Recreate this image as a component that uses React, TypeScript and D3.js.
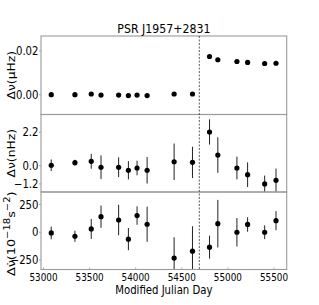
import React, { useEffect, useRef } from "react";
import * as d3 from "d3";

// epochs (MJD) shared by all three panels
const mjd = [53084, 53341, 53518, 53624, 53815, 53921, 54015, 54124, 54417, 54616, 54801, 54891, 55098, 55214, 55399, 55522];
const glitchEpoch = 54690;

// top: frequency residual (uHz)
const dNu = [0, 0, 0.0003, -0.0002, -0.0002, -0.0004, -0.0002, -0.0004, 0.0003, 0.0003, 0.0175, 0.016, 0.0152, 0.0148, 0.0143, 0.0144];
// middle: frequency residual after glitch model (nHz)
const dNuRes = [0.03, 0.2, 0.29, -0.1, -0.1, -0.3, -0.15, -0.3, 0.26, 0.22, 2.22, 0.7, -0.15, -0.59, -1.2, -0.96];
const dNuResErr = [0.38, 0.19, 0.49, 0.78, 0.65, 0.6, 0.48, 0.87, 1.2, 1.03, 0.83, 1.17, 0.75, 0.81, 0.55, 0.77];
// bottom: frequency derivative (1e-18 s^-2)
const dNuDot = [-6, -36, 30, 140, 110, -62, 150, 72, -232, -170, -134, 77, 0, 70, 0, 104];
const dNuDotErr = [57, 50, 90, 100, 137, 100, 83, 158, 187, 224, 103, 214, 128, 65, 62, 86];

const xTicks = [53000, 53500, 54000, 54500, 55000, 55500];
const topTicks = [0, 0.02];
const topTickLabels = ["0.00", "0.02"];
const midTicks = [-1.2, 0, 2.2];
const midTickLabels = ["\u22121.2", "0.0", "2.2"];
const botTicks = [-250, 0, 250];
const botTickLabels = ["\u2212250", "0", "250"];

const FONT = "DejaVu Sans";
const SQ = 0.88; // the picture is squeezed horizontally

const App: React.FC = () => {
  const svgRef = useRef<SVGSVGElement | null>(null);

  useEffect(() => {
    const width = 319;
    const height = 305;
    const left = 41;
    const right = 286.7;
    const panels = [
      { top: 36, bottom: 114.5, domain: [-0.0091, 0.0269], values: dNu, errs: null as number[] | null, ticks: topTicks, labels: topTickLabels },
      { top: 114.5, bottom: 192, domain: [-1.73, 3.37], values: dNuRes, errs: dNuResErr, ticks: midTicks, labels: midTickLabels },
      { top: 192, bottom: 269.5, domain: [-335, 362], values: dNuDot, errs: dNuDotErr, ticks: botTicks, labels: botTickLabels },
    ];

    const x = d3.scaleLinear().domain([52973, 55638]).range([left, right]);

    const svg = d3.select(svgRef.current).attr("width", width).attr("height", height);
    svg.selectAll("*").remove();
    svg.append("rect").attr("width", width).attr("height", height).attr("fill", "#fff");

    panels.forEach((p, i) => {
      const y = d3.scaleLinear().domain(p.domain).range([p.bottom, p.top]);
      const clipId = `clip${i}`;
      svg.append("clipPath").attr("id", clipId)
        .append("rect").attr("x", left).attr("y", p.top).attr("width", right - left).attr("height", p.bottom - p.top);
      const g = svg.append("g").attr("clip-path", `url(#${clipId})`);

      // error bars
      if (p.errs) {
        const errs = p.errs;
        g.selectAll("line.err").data(p.values).enter().append("line")
          .attr("x1", (_, j) => x(mjd[j])).attr("x2", (_, j) => x(mjd[j]))
          .attr("y1", (d, j) => y(d - errs[j])).attr("y2", (d, j) => y(d + errs[j]))
          .attr("stroke", "#222").attr("stroke-width", 1);
      }
      g.selectAll("circle").data(p.values).enter().append("circle")
        .attr("cx", (_, j) => x(mjd[j])).attr("cy", (d) => y(d)).attr("r", 2.6).attr("fill", "#000");

      // y ticks
      p.ticks.forEach((t, k) => {
        svg.append("line").attr("x1", left - 2).attr("x2", left).attr("y1", y(t)).attr("y2", y(t))
          .attr("stroke", "#999").attr("stroke-width", 0.8);
        svg.append("text")
          .attr("transform", `translate(${left - 2.5},${y(t)}) scale(${SQ},1)`)
          .attr("text-anchor", "end").attr("dy", "0.36em")
          .attr("font-family", FONT).attr("font-size", 11.5).attr("fill", "#000")
          .text(p.labels[k]);
      });

      // frame
      svg.append("rect").attr("x", left).attr("y", p.top).attr("width", right - left).attr("height", p.bottom - p.top)
        .attr("fill", "none").attr("stroke", "#9a9a9a").attr("stroke-width", 1.1);
    });

    // glitch epoch
    svg.append("line").attr("x1", x(glitchEpoch)).attr("x2", x(glitchEpoch))
      .attr("y1", panels[0].top).attr("y2", panels[2].bottom)
      .attr("stroke", "#333").attr("stroke-width", 0.8).attr("stroke-dasharray", "2,1.5");

    // x ticks on the bottom panel
    const bottom = panels[2].bottom;
    xTicks.forEach((t) => {
      svg.append("line").attr("x1", x(t)).attr("x2", x(t)).attr("y1", bottom).attr("y2", bottom - 2)
        .attr("stroke", "#999").attr("stroke-width", 0.8);
      svg.append("text")
        .attr("transform", `translate(${x(t)},${bottom + 11.5}) scale(0.82,1)`)
        .attr("text-anchor", "middle").attr("font-family", FONT).attr("font-size", 10.8).attr("fill", "#000")
        .text(String(t));
    });

    const cx = (left + right) / 2;
    svg.append("text")
      .attr("transform", `translate(${cx},294.3) scale(${SQ},1)`)
      .attr("text-anchor", "middle").attr("font-family", FONT).attr("font-size", 11.5).text("Modified Julian Day");

    svg.append("text")
      .attr("transform", `translate(${cx},33) scale(${SQ},1)`)
      .attr("text-anchor", "middle").attr("font-family", FONT).attr("font-size", 12.5).text("PSR J1957+2831");

    // y labels
    const ylab = (yc: number, size: number) =>
      svg.append("text")
        .attr("transform", `translate(14.5,${yc}) rotate(-90) scale(1,${SQ})`)
        .attr("text-anchor", "middle").attr("font-family", FONT).attr("font-size", size).attr("fill", "#000");

    ylab((panels[0].top + panels[0].bottom) / 2, 12.3).text("\u0394\u03bd(\u03bcHz)");
    ylab((panels[1].top + panels[1].bottom) / 2, 12.3).text("\u0394\u03bd(nHz)");
    const t3 = ylab((panels[2].top + panels[2].bottom) / 2 + 3, 12.8);
    t3.append("tspan").text("\u0394\u03bd\u0307(10");
    t3.append("tspan").attr("font-size", 10).attr("dy", -5.5).text("\u221218");
    t3.append("tspan").attr("dy", 5.5).text("s");
    t3.append("tspan").attr("font-size", 10).attr("dy", -5.5).text("\u22122");
    t3.append("tspan").attr("dy", 5.5).text(")");
  }, []);

  return <svg ref={svgRef} style={{ position: "absolute", left: 0, top: 0 }}></svg>;
};

export default App;
